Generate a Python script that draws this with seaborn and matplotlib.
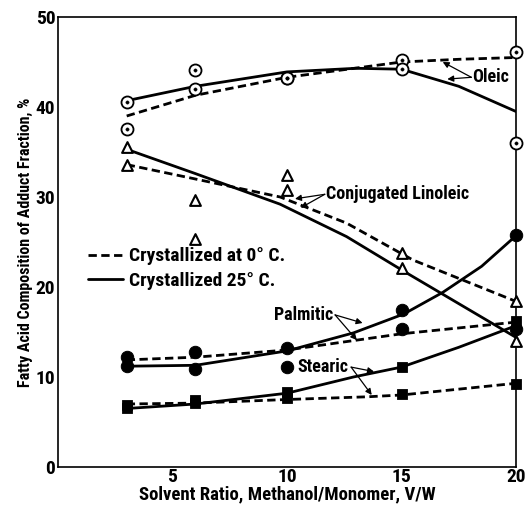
import numpy as np
import pandas as pd
import matplotlib
matplotlib.use('Agg')
import matplotlib.pyplot as plt
from matplotlib import font_manager as fm
import seaborn as sns

# Datos
ratios = [3, 6, 10, 15, 20]

oleic_pts_a = [37.6, 42.0, 43.2, 45.2, 46.1]
oleic_pts_b = [40.6, 44.1, 43.2, 44.2, 36.0]
linoleic_pts_a = [33.6, 25.3, 30.8, 23.8, 18.4]
linoleic_pts_b = [35.6, 29.7, 32.4, 22.1, 14.0]
palmitic_pts_a = [12.2, 12.8, 13.2, 15.3, 15.3]
palmitic_pts_b = [11.2, 10.9, 11.1, 17.4, 25.8]
stearic_pts_a = [6.9, 7.5, 7.7, 8.1, 9.2]
stearic_pts_b = [6.6, 7.1, 8.3, 11.1, 16.2]

# curvas (0 °C discontinua, 25 °C continua)
oleic_x_0 = [3, 6, 10, 15, 17.5, 20]
oleic_y_0 = [39.0, 41.3, 43.3, 45.0, 45.3, 45.5]
oleic_x_25 = [3, 6, 10, 13, 15, 17.5, 20]
oleic_y_25 = [40.7, 42.3, 43.9, 44.3, 44.2, 42.3, 39.5]

linoleic_x_0 = [3, 6, 9.7, 12.6, 15.5, 20]
linoleic_y_0 = [33.6, 32.0, 30.0, 27.1, 23.0, 18.4]
linoleic_x_25 = [3, 6, 9.7, 12.6, 15.2, 17.0, 20]
linoleic_y_25 = [35.3, 32.6, 29.2, 25.6, 21.6, 18.9, 14.4]

palmitic_x_0 = [3, 6, 10, 15, 20]
palmitic_y_0 = [11.9, 12.2, 13.0, 14.8, 16.1]
palmitic_x_25 = [3, 6, 10, 12.9, 15.1, 16.8, 18.5, 20]
palmitic_y_25 = [11.2, 11.3, 12.9, 14.9, 17.0, 19.4, 22.3, 25.7]

stearic_x_0 = [3, 6, 10, 13.5, 15, 20]
stearic_y_0 = [7.0, 7.1, 7.5, 7.8, 8.0, 9.3]
stearic_x_25 = [3, 6, 10, 12.9, 15, 17.5, 20]
stearic_y_25 = [6.5, 7.0, 8.2, 10.0, 11.1, 13.3, 15.7]

# buscar una fuente estrecha instalada
candidatas = ['Roboto Condensed', 'Archivo Narrow', 'PT Sans Narrow',
              'Liberation Sans Narrow', 'Oswald']
instaladas = {f.name for f in fm.fontManager.ttflist}
FONT = [c for c in candidatas if c in instaladas][:1] + ['DejaVu Sans']

sns.set_theme(style='white')
plt.rcParams['font.family'] = FONT
plt.rcParams['font.weight'] = 'bold'
plt.rcParams['text.color'] = 'black'
plt.rcParams['xtick.color'] = 'black'
plt.rcParams['ytick.color'] = 'black'
plt.rcParams['axes.labelcolor'] = 'black'

fig = plt.figure(figsize=(5.26, 5.05), dpi=100)
ax = fig.add_axes([58 / 526, 38 / 505, 458 / 526, 450 / 505])

LW = 2.0
DASH = (3, 1.6)

curvas = [
    (oleic_x_0, oleic_y_0, oleic_x_25, oleic_y_25),
    (linoleic_x_0, linoleic_y_0, linoleic_x_25, linoleic_y_25),
    (palmitic_x_0, palmitic_y_0, palmitic_x_25, palmitic_y_25),
    (stearic_x_0, stearic_y_0, stearic_x_25, stearic_y_25),
]
for x0, y0, x25, y25 in curvas:
    sns.lineplot(x=x0, y=y0, ax=ax, color='black', lw=LW)
    ax.lines[-1].set_dashes(DASH)
    sns.lineplot(x=x25, y=y25, ax=ax, color='black', lw=LW)

# puntos
for pts in (oleic_pts_a, oleic_pts_b):
    sns.scatterplot(x=ratios, y=pts, ax=ax, marker='o', s=75, facecolor='white',
                    edgecolor='black', linewidth=1.3, zorder=5, clip_on=False)
    sns.scatterplot(x=ratios, y=pts, ax=ax, marker='o', s=6, color='black',
                    edgecolor='black', zorder=6, clip_on=False)
for pts in (linoleic_pts_a, linoleic_pts_b):
    sns.scatterplot(x=ratios, y=pts, ax=ax, marker='^', s=60, facecolor='white',
                    edgecolor='black', linewidth=1.5, zorder=5, clip_on=False)
for pts in (palmitic_pts_a, palmitic_pts_b):
    sns.scatterplot(x=ratios, y=pts, ax=ax, marker='o', s=80, color='black',
                    edgecolor='black', zorder=5, clip_on=False)
for pts in (stearic_pts_a, stearic_pts_b):
    sns.scatterplot(x=ratios, y=pts, ax=ax, marker='s', s=55, color='black',
                    edgecolor='black', zorder=5, clip_on=False)

# etiquetas con flechas: (texto, posición, alineación, origen flechas, destinos)
flecha = dict(arrowstyle='-|>', color='black', lw=0.9, mutation_scale=9,
              shrinkA=0, shrinkB=0)
etiquetas = [
    ('Oleic', (18.1, 43.3), 'left', (18.05, 43.3), [(16.8, 45.0), (17.0, 43.1)]),
    ('Conjugated Linoleic', (11.7, 30.3), 'left', (11.65, 30.3),
     [(10.35, 29.8), (10.6, 28.8)]),
    ('Palmitic', (12.0, 16.9), 'right', (12.1, 16.9), [(13.3, 16.0), (13.05, 14.1)]),
    ('Stearic', (12.7, 11.1), 'right', (12.8, 11.1), [(13.8, 10.6), (13.7, 8.0)]),
]
for texto, pos, ha, origen, destinos in etiquetas:
    ax.text(pos[0], pos[1], texto, fontsize=13, fontweight='bold',
            ha=ha, va='center')
    for d in destinos:
        ax.annotate('', xy=d, xytext=origen, arrowprops=flecha)

# leyenda
h0, = ax.plot([], [], color='black', lw=LW, dashes=DASH)
h25, = ax.plot([], [], color='black', lw=LW)
ax.legend([h0, h25], ['Crystallized at 0° C.', 'Crystallized 25° C.'],
          loc='upper left', bbox_to_anchor=(0.028, 0.527), frameon=False,
          handlelength=1.8, handletextpad=0.3, labelspacing=0.35,
          prop={'size': 14, 'weight': 'bold'})

ax.set_xlim(0, 20)
ax.set_ylim(0, 50)
ax.set_xticks([5, 10, 15, 20])
ax.set_yticks([0, 10, 20, 30, 40, 50])
ax.tick_params(axis='both', direction='in', color='black', width=1.2,
               labelsize=14)
ax.tick_params(axis='y', length=19, pad=2)
ax.tick_params(axis='x', length=17, pad=1)
for s in ax.spines.values():
    s.set_color('black')
    s.set_linewidth(1.2)

ax.set_xlabel('Solvent Ratio, Methanol/Monomer, V/W', fontsize=13.5,
              fontweight='bold', labelpad=-1)
ax.set_ylabel('Fatty Acid Composition of Adduct Fraction, %', fontsize=11.5,
              fontweight='bold', labelpad=2)

plt.savefig('out.png', dpi=100)
plt.close()
